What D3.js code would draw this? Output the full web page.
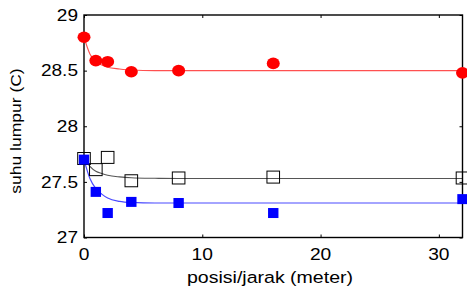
<!DOCTYPE html>
<html><head><meta charset="utf-8">
<script src="https://cdn.jsdelivr.net/npm/d3@7"></script>
<style>body{margin:0;background:#fff}svg{display:block}text{font-family:"Liberation Sans",Arial,sans-serif;fill:#000}</style>
</head><body><svg id="c" width="467" height="288"></svg>
<script>
const posX = [0, 1, 2, 4, 8, 16, 32];
const redVals = [28.80, 28.59, 28.58, 28.49, 28.50, 28.565, 28.48];
const blackVals = [27.71, 27.61, 27.72, 27.51, 27.535, 27.543, 27.535];
const blueVals = [27.70, 27.41, 27.22, 27.32, 27.31, 27.22, 27.345];
const fitX = [0, 0.5, 1, 1.5, 2, 3, 4, 6, 8, 16, 32];
const redFit = [28.80, 28.65, 28.58, 28.55, 28.53, 28.515, 28.505, 28.50, 28.50, 28.50, 28.50];
const blackFit = [27.71, 27.64, 27.595, 27.575, 27.56, 27.545, 27.537, 27.532, 27.53, 27.53, 27.53];
const blueFit = [27.70, 27.53, 27.44, 27.39, 27.355, 27.325, 27.315, 27.31, 27.31, 27.31, 27.31];
const xTicks = [0, 10, 20, 30];
const yTicks = [27, 27.5, 28, 28.5, 29];
const xLabel = "posisi/jarak (meter)";
const yLabel = "suhu lumpur (C)";

const svg = d3.select("#c");
const L = 84, R = 462.5, T = 15, B = 237.5;
const x = d3.scaleLinear().domain([0, 32]).range([L, R]);
const y = d3.scaleLinear().domain([27, 29]).range([B, T]);

// ticks (inward)
const g = svg.append("g");
g.append("g").attr("transform", `translate(0,${B})`).call(d3.axisBottom(x).tickValues(xTicks).tickSize(-3).tickFormat(""));
g.append("g").attr("transform", `translate(0,${T})`).call(d3.axisTop(x).tickValues(xTicks).tickSize(-3).tickFormat(""));
g.append("g").attr("transform", `translate(${L},0)`).call(d3.axisLeft(y).tickValues(yTicks).tickSize(-3).tickFormat(""));
g.append("g").attr("transform", `translate(${R},0)`).call(d3.axisRight(y).tickValues(yTicks).tickSize(-3).tickFormat(""));
g.selectAll(".domain").remove();
g.selectAll(".tick line").attr("stroke", "#000").attr("stroke-width", 1);

// fit lines
const line = d3.line().x((d, i) => x(fitX[i])).y(d => y(d)).curve(d3.curveMonotoneX);
svg.append("path").attr("d", line(redFit)).attr("fill", "none").attr("stroke", "#ff5050").attr("stroke-width", 1.1);
svg.append("path").attr("d", line(blackFit)).attr("fill", "none").attr("stroke", "#555").attr("stroke-width", 1.1);
svg.append("path").attr("d", line(blueFit)).attr("fill", "none").attr("stroke", "#4a4aff").attr("stroke-width", 1.2);

// frame
svg.append("rect").attr("x", L).attr("y", T).attr("width", R - L).attr("height", B - T)
  .attr("fill", "none").attr("stroke", "#000").attr("stroke-width", 1.4);

// markers
svg.append("g").selectAll("rect").data(blackVals).join("rect")
  .attr("x", (d, i) => x(posX[i]) - 6.3).attr("y", d => y(d) - 6)
  .attr("width", 12.6).attr("height", 12).attr("fill", "#fff").attr("fill-opacity", 0)
  .attr("stroke", "#000").attr("stroke-width", 1);
svg.append("g").selectAll("rect").data(blueVals).join("rect")
  .attr("x", (d, i) => x(posX[i]) - 5.2).attr("y", d => y(d) - 5)
  .attr("width", 10.4).attr("height", 10).attr("fill", "#0000ff");
svg.append("g").selectAll("ellipse").data(redVals).join("ellipse")
  .attr("cx", (d, i) => x(posX[i])).attr("cy", d => y(d))
  .attr("rx", 6.5).attr("ry", 5.8).attr("fill", "#ff0000");

// tick labels
svg.append("g").selectAll("text").data(xTicks).join("text")
  .attr("transform", d => `translate(${x(d)},260) scale(1.2,1)`)
  .attr("text-anchor", "middle").attr("font-size", 16).text(d => d);
svg.append("g").selectAll("text").data(yTicks).join("text")
  .attr("transform", d => `translate(78,${y(d) + 5.8}) scale(1.19,1)`)
  .attr("text-anchor", "end").attr("font-size", 16).text(d => d);

// axis labels
svg.append("text").attr("transform", "translate(270,283) scale(1.15,1)")
  .attr("text-anchor", "middle").attr("font-size", 17).text(xLabel);
svg.append("text").attr("transform", "translate(21,131) rotate(-90) scale(1.13,1)")
  .attr("text-anchor", "middle").attr("font-size", 15.5).text(yLabel);
</script></body></html>
